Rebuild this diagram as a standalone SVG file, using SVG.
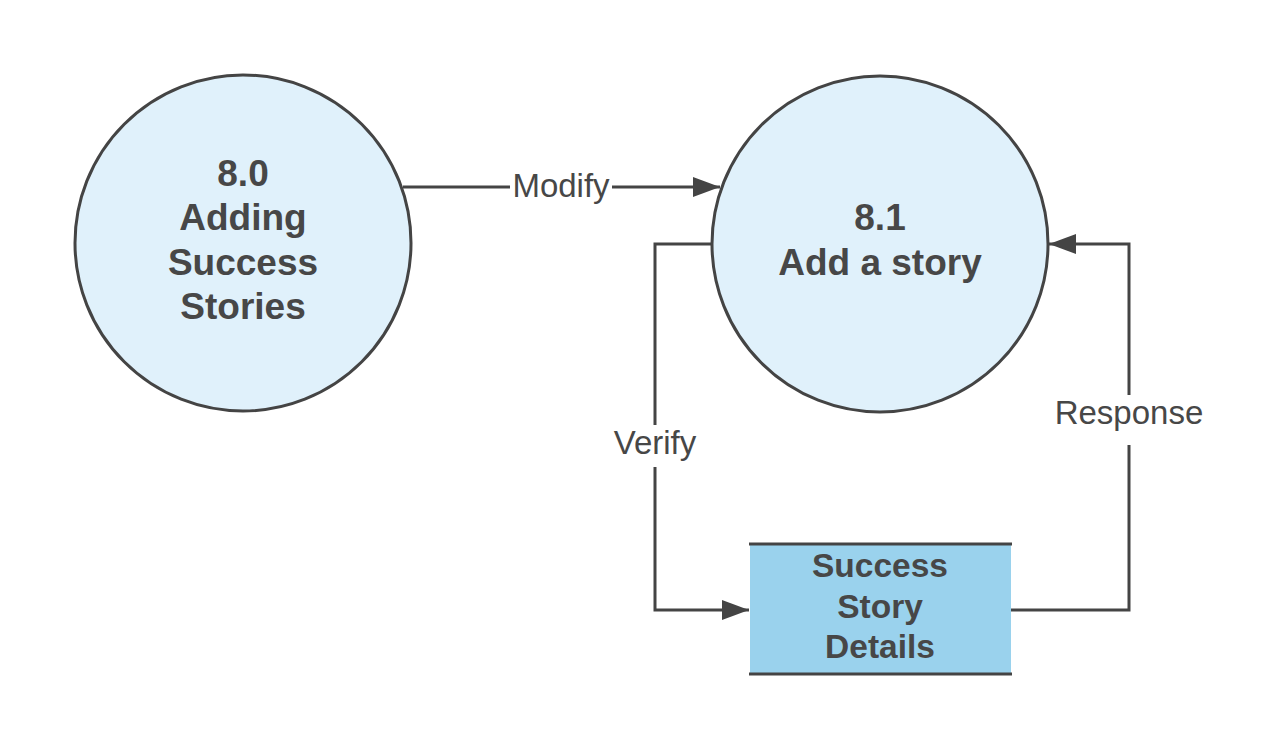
<svg xmlns="http://www.w3.org/2000/svg" width="1281" height="750" viewBox="0 0 1281 750">
<style>
.node{fill:#e0f1fb;stroke:#444;stroke-width:3}
.title{font-family:Arial,'Liberation Sans',Helvetica,sans-serif;font-weight:bold;font-size:37px;fill:#474747;text-anchor:middle;dominant-baseline:central}
.store{font-size:33.5px}
.lbl{font-family:Arial,'Liberation Sans',Helvetica,sans-serif;font-size:33px;fill:#474747;text-anchor:middle;dominant-baseline:central}
.edge{fill:none;stroke:#444;stroke-width:3}
</style>
<defs>
<marker id="arr" markerWidth="28" markerHeight="22" refX="27" refY="11" orient="auto" markerUnits="userSpaceOnUse">
<path d="M0,1 L27,11 L0,21 Z" fill="#444"/>
</marker>
</defs>
<rect width="1281" height="750" fill="#fff"/>
<g id="connectors">
<path class="edge" d="M403,187 L720,187" marker-end="url(#arr)"/>
<rect x="510" y="166" width="102" height="40" fill="#fff"/>
<text class="lbl" x="561" y="185">Modify</text>
<path class="edge" d="M711,244 L655,244 L655,610 L749,610" marker-end="url(#arr)"/>
<rect x="610" y="425" width="90" height="42" fill="#fff"/>
<text class="lbl" x="655" y="442">Verify</text>
<path class="edge" d="M1011,610 L1129,610 L1129,244 L1049,244" marker-end="url(#arr)"/>
<rect x="1051" y="395" width="156" height="50" fill="#fff"/>
<text class="lbl" x="1129" y="412">Response</text>
</g>
<g id="node-8-0">
<circle class="node" cx="243" cy="243" r="168"/>
<text class="title" x="243" y="173">8.0</text>
<text class="title" x="243" y="217">Adding</text>
<text class="title" x="243" y="262">Success</text>
<text class="title" x="243" y="306">Stories</text>
</g>
<g id="node-8-1">
<circle class="node" cx="880" cy="244" r="168"/>
<text class="title" x="880" y="217">8.1</text>
<text class="title" x="880" y="262">Add a story</text>
</g>
<g id="store">
<rect x="750" y="544" width="261" height="130" fill="#9ad2ed"/>
<line x1="749" y1="544" x2="1012" y2="544" stroke="#444" stroke-width="3"/>
<line x1="749" y1="674" x2="1012" y2="674" stroke="#444" stroke-width="3"/>
<text class="title store" x="880" y="565">Success</text>
<text class="title store" x="880" y="606">Story</text>
<text class="title store" x="880" y="646">Details</text>
</g>
</svg>
